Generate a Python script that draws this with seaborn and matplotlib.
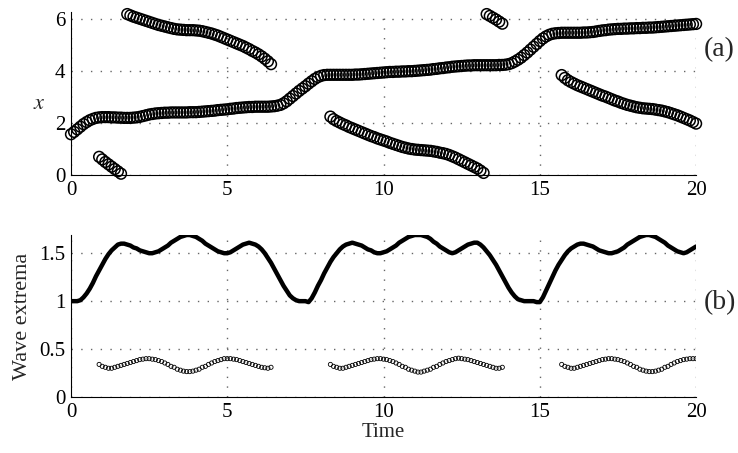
import numpy as np
import pandas as pd
import matplotlib
matplotlib.use("Agg")
import matplotlib.pyplot as plt
import seaborn as sns

# ---------------------------------------------------------
# Dane (krok czasu 0.1)
# ---------------------------------------------------------
# (a) polozenie glownego ekstremum, t = 0.0 ... 20.0
x_main = [
    1.57, 1.66, 1.76, 1.86, 1.96, 2.04, 2.11, 2.16, 2.20, 2.22,
    2.23, 2.23, 2.23, 2.22, 2.22, 2.21, 2.21, 2.20, 2.20, 2.20,
    2.21, 2.22, 2.24, 2.27, 2.30, 2.33, 2.35, 2.37, 2.38, 2.39,
    2.40, 2.40, 2.41, 2.41, 2.41, 2.41, 2.41, 2.41, 2.42, 2.42,
    2.42, 2.43, 2.44, 2.45, 2.46, 2.47, 2.48, 2.50, 2.51, 2.52,
    2.53, 2.55, 2.56, 2.58, 2.59, 2.60, 2.61, 2.62, 2.62, 2.63,
    2.63, 2.63, 2.63, 2.63, 2.64, 2.65, 2.67, 2.70, 2.76, 2.84,
    2.94, 3.04, 3.14, 3.24, 3.33, 3.42, 3.52, 3.61, 3.70, 3.77,
    3.82, 3.85, 3.86, 3.86, 3.86, 3.86, 3.86, 3.86, 3.86, 3.86,
    3.86, 3.87, 3.87, 3.88, 3.89, 3.90, 3.91, 3.92, 3.93, 3.94,
    3.95, 3.96, 3.97, 3.97, 3.98, 3.98, 3.99, 3.99, 4.00, 4.00,
    4.01, 4.02, 4.03, 4.04, 4.05, 4.06, 4.08, 4.09, 4.11, 4.12,
    4.14, 4.15, 4.17, 4.18, 4.19, 4.20, 4.21, 4.22, 4.22, 4.23,
    4.23, 4.23, 4.23, 4.23, 4.23, 4.23, 4.23, 4.24, 4.24, 4.25,
    4.27, 4.31, 4.37, 4.44, 4.52, 4.62, 4.72, 4.83, 4.94, 5.05,
    5.16, 5.26, 5.34, 5.40, 5.44, 5.46, 5.47, 5.48, 5.48, 5.48,
    5.48, 5.48, 5.48, 5.48, 5.49, 5.49, 5.50, 5.51, 5.53, 5.55,
    5.57, 5.58, 5.60, 5.61, 5.62, 5.63, 5.63, 5.64, 5.64, 5.65,
    5.65, 5.66, 5.66, 5.67, 5.67, 5.68, 5.68, 5.69, 5.70, 5.71,
    5.72, 5.73, 5.74, 5.75, 5.76, 5.77, 5.78, 5.79, 5.80, 5.81,
    5.82,
]
t_main_start = 0.0

# (a) drugie ekstremum - kawalki (start, wartosci)
x_seg1a = [0.70, 0.60, 0.50, 0.41, 0.32, 0.23, 0.14, 0.05]
t_seg1a_start = 0.9
x_seg1b = [
    6.20, 6.15, 6.10, 6.06, 6.02, 5.98, 5.94, 5.90, 5.86, 5.82,
    5.78, 5.75, 5.72, 5.69, 5.66, 5.63, 5.61, 5.60, 5.59, 5.58,
    5.58, 5.58, 5.57, 5.56, 5.54, 5.51, 5.48, 5.45, 5.41, 5.37,
    5.32, 5.27, 5.22, 5.17, 5.12, 5.07, 5.02, 4.97, 4.91, 4.85,
    4.78, 4.72, 4.65, 4.57, 4.48, 4.38, 4.27,
]
t_seg1b_start = 1.8
x_seg2a = [
    2.25, 2.15, 2.08, 2.02, 1.96, 1.91, 1.85, 1.80, 1.75, 1.70,
    1.65, 1.60, 1.55, 1.50, 1.46, 1.41, 1.37, 1.33, 1.29, 1.24,
    1.20, 1.16, 1.12, 1.08, 1.05, 1.02, 1.00, 0.98, 0.97, 0.96,
    0.95, 0.94, 0.93, 0.91, 0.89, 0.86, 0.84, 0.81, 0.77, 0.72,
    0.67, 0.61, 0.55, 0.49, 0.43, 0.37, 0.31, 0.25, 0.17, 0.08,
]
t_seg2a_start = 8.3
x_seg2b = [6.20, 6.13, 6.06, 5.99, 5.91, 5.83]
t_seg2b_start = 13.3
x_seg3 = [
    3.85, 3.74, 3.65, 3.58, 3.52, 3.46, 3.41, 3.36, 3.31, 3.26,
    3.21, 3.16, 3.11, 3.06, 3.02, 2.97, 2.92, 2.87, 2.83, 2.78,
    2.74, 2.70, 2.67, 2.64, 2.61, 2.59, 2.57, 2.56, 2.55, 2.54,
    2.52, 2.50, 2.48, 2.45, 2.42, 2.38, 2.34, 2.30, 2.25, 2.20,
    2.15, 2.10, 2.04, 1.98,
]
t_seg3_start = 15.7

# (b) amplituda maksimum, t = 0.0 ... 20.0
amp_max = [
    1.00, 1.00, 1.00, 1.01, 1.04, 1.08, 1.13, 1.19, 1.26, 1.32,
    1.38, 1.44, 1.49, 1.53, 1.56, 1.59, 1.60, 1.60, 1.59, 1.58,
    1.56, 1.55, 1.53, 1.52, 1.51, 1.50, 1.50, 1.51, 1.52, 1.54,
    1.56, 1.58, 1.61, 1.63, 1.65, 1.67, 1.68, 1.69, 1.69, 1.68,
    1.67, 1.65, 1.63, 1.60, 1.58, 1.56, 1.54, 1.52, 1.51, 1.50,
    1.50, 1.51, 1.53, 1.55, 1.57, 1.59, 1.60, 1.61, 1.60, 1.59,
    1.57, 1.54, 1.50, 1.45, 1.40, 1.34, 1.28, 1.22, 1.16, 1.11,
    1.06, 1.03, 1.01, 1.00, 1.00, 1.00, 0.99, 1.03, 1.09, 1.16,
    1.22, 1.29, 1.35, 1.41, 1.46, 1.50, 1.54, 1.57, 1.59, 1.60,
    1.61, 1.60, 1.59, 1.58, 1.56, 1.54, 1.53, 1.51, 1.50, 1.50,
    1.51, 1.52, 1.54, 1.56, 1.58, 1.61, 1.63, 1.65, 1.67, 1.68,
    1.69, 1.69, 1.69, 1.68, 1.67, 1.65, 1.62, 1.60, 1.57, 1.55,
    1.53, 1.51, 1.50, 1.51, 1.53, 1.55, 1.57, 1.59, 1.60, 1.61,
    1.61, 1.59, 1.56, 1.52, 1.48, 1.43, 1.38, 1.32, 1.26, 1.20,
    1.14, 1.09, 1.05, 1.02, 1.01, 1.00, 1.00, 1.00, 1.00, 0.99,
    0.99, 1.04, 1.11, 1.18, 1.25, 1.32, 1.38, 1.43, 1.48, 1.52,
    1.55, 1.57, 1.59, 1.60, 1.60, 1.59, 1.58, 1.57, 1.55, 1.53,
    1.52, 1.51, 1.50, 1.50, 1.51, 1.52, 1.54, 1.56, 1.59, 1.61,
    1.63, 1.65, 1.67, 1.68, 1.69, 1.69, 1.68, 1.67, 1.65, 1.63,
    1.61, 1.58, 1.56, 1.54, 1.52, 1.51, 1.50, 1.51, 1.53, 1.55,
    1.57,
]

# (b) amplituda minimum - trzy kawalki
amp_min1 = [
    0.34, 0.32, 0.31, 0.30, 0.30, 0.31, 0.32, 0.33, 0.34, 0.35,
    0.36, 0.37, 0.38, 0.39, 0.395, 0.40, 0.40, 0.395, 0.39, 0.38,
    0.37, 0.355, 0.34, 0.32, 0.31, 0.29, 0.28, 0.27, 0.265, 0.265,
    0.27, 0.28, 0.29, 0.31, 0.32, 0.34, 0.355, 0.37, 0.38, 0.39,
    0.40, 0.40, 0.40, 0.395, 0.39, 0.38, 0.37, 0.36, 0.35, 0.34,
    0.33, 0.32, 0.31, 0.305, 0.30, 0.31,
]
t_min1_start = 0.9
amp_min2 = [
    0.34, 0.32, 0.31, 0.30, 0.30, 0.31, 0.32, 0.33, 0.34, 0.35,
    0.36, 0.37, 0.38, 0.39, 0.395, 0.40, 0.40, 0.395, 0.39, 0.38,
    0.37, 0.355, 0.34, 0.32, 0.31, 0.29, 0.28, 0.27, 0.26, 0.26,
    0.27, 0.28, 0.29, 0.31, 0.32, 0.34, 0.355, 0.37, 0.38, 0.39,
    0.40, 0.405, 0.40, 0.395, 0.39, 0.38, 0.37, 0.36, 0.35, 0.34,
    0.33, 0.32, 0.31, 0.30, 0.30, 0.31,
]
t_min2_start = 8.3
amp_min3 = [
    0.34, 0.32, 0.31, 0.30, 0.30, 0.31, 0.32, 0.33, 0.34, 0.35,
    0.36, 0.37, 0.38, 0.39, 0.395, 0.40, 0.40, 0.395, 0.39, 0.38,
    0.37, 0.355, 0.34, 0.32, 0.31, 0.29, 0.28, 0.27, 0.265, 0.265,
    0.27, 0.28, 0.29, 0.31, 0.32, 0.34, 0.355, 0.37, 0.38, 0.39,
    0.395, 0.40, 0.40, 0.40,
]
t_min3_start = 15.7

DT = 0.1


def seg_frame(start, values):
    t = start + DT * np.arange(len(values))
    return pd.DataFrame({"t": t, "v": values})


def style_axes(ax, ylim, yticks, yticklabels):
    ax.set_xlim(0, 20)
    ax.set_ylim(*ylim)
    ax.set_xticks([0, 5, 10, 15, 20])
    ax.set_yticks(yticks)
    ax.set_yticklabels(yticklabels)
    ax.grid(True, color="0.4", linestyle=(0, (1, 6)), linewidth=1.0)
    ax.set_axisbelow(True)
    for side in ["top", "right"]:
        ax.spines[side].set_visible(False)
    for side in ["left", "bottom"]:
        ax.spines[side].set_color("black")
        ax.spines[side].set_linewidth(0.8)
    ax.tick_params(direction="in", length=4, width=0.8, labelsize=15,
                   colors="black", pad=4)
    ax.set_xlabel("")
    ax.set_ylabel("")


def main():
    sns.set_theme(style="white")
    plt.rcParams["font.family"] = ["Liberation Serif", "DejaVu Serif"]
    plt.rcParams["mathtext.fontset"] = "stix"

    fig = plt.figure(figsize=(7.38, 4.53), dpi=100)
    ax1 = fig.add_axes([0.0962, 0.6137, 0.847, 0.36])
    ax2 = fig.add_axes([0.0962, 0.1236, 0.847, 0.3576])

    # ---------------- (a) ----------------
    circ = dict(marker="o", s=60, facecolors="none", edgecolor="black",
                linewidth=1.1, legend=False)
    top_segments = [
        (t_main_start, x_main),
        (t_seg1a_start, x_seg1a),
        (t_seg1b_start, x_seg1b),
        (t_seg2a_start, x_seg2a),
        (t_seg2b_start, x_seg2b),
        (t_seg3_start, x_seg3),
    ]
    for start, vals in top_segments:
        sns.scatterplot(data=seg_frame(start, vals), x="t", y="v", ax=ax1,
                        clip_on=False, **circ)
    style_axes(ax1, (0, 2 * np.pi), [0, 2, 4, 6], ["0", "2", "4", "6"])
    ax1.set_ylabel("$x$", fontsize=16, rotation=0, ha="center", va="center")
    ax1.yaxis.set_label_coords(-0.05, 0.43)
    ax1.text(1.013, 0.77, "(a)", transform=ax1.transAxes, fontsize=20,
             ha="left", va="center")

    # ---------------- (b) ----------------
    sns.lineplot(data=seg_frame(0.0, amp_max), x="t", y="v", ax=ax2,
                 color="black", linewidth=3.2)
    small = dict(marker="o", s=9, facecolors="none", edgecolor="black",
                 linewidth=0.6, legend=False)
    for start, vals in [(t_min1_start, amp_min1), (t_min2_start, amp_min2),
                        (t_min3_start, amp_min3)]:
        sns.scatterplot(data=seg_frame(start, vals), x="t", y="v", ax=ax2,
                        **small)
    style_axes(ax2, (0, 1.69), [0, 0.5, 1, 1.5], ["0", "0.5", "1", "1.5"])
    ax2.set_ylabel("Wave extrema", fontsize=16)
    ax2.yaxis.set_label_coords(-0.062, 0.5)
    ax2.set_xlabel("Time", fontsize=15, labelpad=1)
    ax2.text(1.013, 0.58, "(b)", transform=ax2.transAxes, fontsize=20,
             ha="left", va="center")

    fig.savefig("out.png", dpi=100)
    plt.close(fig)


if __name__ == "__main__":
    main()
